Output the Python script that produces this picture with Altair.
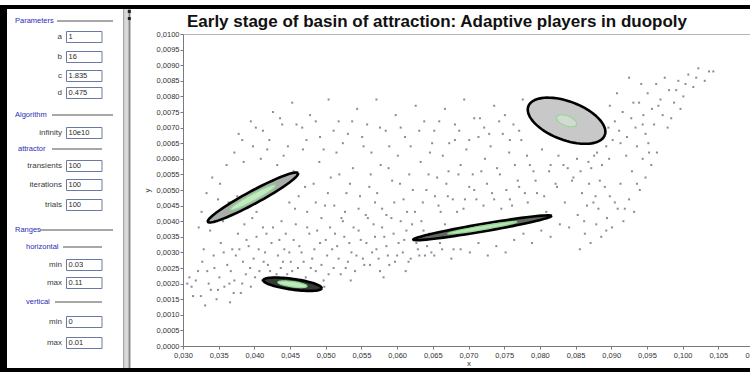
import altair as alt
import pandas as pd

# ---------------------------------------------------------------- data
TITLE = "Early stage of basin of attraction: Adaptive players in duopoly"

# scattered orbit points of the adaptive duopoly map
cloud_x = [
    0.0312, 0.0318, 0.0325, 0.0331, 0.0334, 0.0339, 0.0343, 0.0347, 0.0351, 0.0353,
    0.0358, 0.0362, 0.0366, 0.0369, 0.0372, 0.0377, 0.0381, 0.0384, 0.0388, 0.0392,
    0.0395, 0.0399, 0.0403, 0.0407, 0.0411, 0.0415, 0.0419, 0.0424, 0.0428, 0.0433,
    0.0437, 0.0442, 0.0446, 0.0451, 0.0338, 0.0356, 0.0364, 0.0329, 0.0327, 0.0306,
    0.0309, 0.0326, 0.0333, 0.0341, 0.0349, 0.0322,
    0.0455, 0.0461, 0.0466, 0.0472, 0.0477, 0.0481, 0.0486, 0.0492, 0.0497, 0.0502,
    0.0506, 0.0511, 0.0516, 0.0521, 0.0526, 0.0531, 0.0536, 0.0541, 0.0546, 0.0552,
    0.0557, 0.0562, 0.0567, 0.0571, 0.0576, 0.0582, 0.0587, 0.0592, 0.0597, 0.0602,
    0.0608, 0.0613, 0.0619, 0.0624, 0.0629, 0.0634, 0.0639, 0.0645, 0.0498, 0.0535,
    0.0581, 0.0612,
    0.0652, 0.0658, 0.0663, 0.0671, 0.0676, 0.0684, 0.0689, 0.0695, 0.0702, 0.0708,
    0.0714, 0.0721, 0.0727, 0.0733, 0.0739, 0.0746, 0.0752, 0.0758, 0.0764, 0.0771,
    0.0777, 0.0783, 0.0789, 0.0796, 0.0802, 0.0809, 0.0815, 0.0822, 0.0828, 0.0835,
    0.0841, 0.0847, 0.0853, 0.0859, 0.0866, 0.0872, 0.0878, 0.0884, 0.0891, 0.0897,
    0.0352, 0.0361, 0.0372, 0.0385, 0.0398, 0.0409, 0.0418, 0.0432, 0.0441, 0.0455,
    0.0462, 0.0468, 0.0474, 0.0483, 0.0491, 0.0499, 0.0507, 0.0515, 0.0522, 0.0529,
    0.0538, 0.0546, 0.0553, 0.0561, 0.0569, 0.0577, 0.0585, 0.0593, 0.0601, 0.0609,
    0.0617, 0.0625, 0.0633, 0.0641, 0.0649, 0.0656, 0.0664, 0.0672, 0.0681, 0.0689,
    0.0697, 0.0706, 0.0714, 0.0723, 0.0731, 0.0740, 0.0748, 0.0757, 0.0765, 0.0774,
    0.0782, 0.0791, 0.0376, 0.0403, 0.0438, 0.0449,
    0.0378, 0.0395, 0.0412, 0.0426, 0.0439, 0.0453, 0.0467, 0.0478, 0.0492, 0.0504,
    0.0518, 0.0531, 0.0544, 0.0558, 0.0571, 0.0584, 0.0598, 0.0611, 0.0626, 0.0638,
    0.0652, 0.0667, 0.0681, 0.0694, 0.0708, 0.0722, 0.0736, 0.0751, 0.0763, 0.0776,
    0.0803, 0.0815, 0.0826, 0.0839, 0.0852, 0.0868, 0.0880, 0.0893, 0.0902, 0.0905,
    0.0911, 0.0916, 0.0922, 0.0928, 0.0934, 0.0939, 0.0945, 0.0951, 0.0957, 0.0963,
    0.0969, 0.0975, 0.0981, 0.0988, 0.0994, 0.1001, 0.1008, 0.1015, 0.1022, 0.1031,
    0.1043, 0.0908, 0.0925, 0.0942, 0.0898, 0.0921, 0.0936, 0.0948, 0.0960, 0.0972,
    0.0984, 0.0997,
    0.0856, 0.0863, 0.0871, 0.0879, 0.0886, 0.0894, 0.0901, 0.0909, 0.0917, 0.0925,
    0.0932, 0.0940, 0.0948, 0.0956, 0.0964, 0.0913, 0.0929, 0.0944, 0.0898, 0.0882,
    0.0367, 0.0374, 0.0383, 0.0389, 0.0394, 0.0401, 0.0406, 0.0413, 0.0417, 0.0422,
    0.0426, 0.0431, 0.0435, 0.0440, 0.0444, 0.0449, 0.0453, 0.0458, 0.0463, 0.0469,
    0.0474, 0.0479, 0.0484, 0.0488, 0.0494, 0.0500, 0.0504, 0.0509, 0.0513, 0.0518,
    0.0524, 0.0528, 0.0533, 0.0539, 0.0543, 0.0549, 0.0554, 0.0559, 0.0565, 0.0569,
    0.0574, 0.0579, 0.0585, 0.0589, 0.0595, 0.0600, 0.0605, 0.0610, 0.0616, 0.0621,
    0.0627, 0.0631, 0.0637, 0.0642, 0.0648, 0.0654, 0.0660, 0.0667, 0.0673, 0.0679,
    0.0457, 0.0471, 0.0486, 0.0494, 0.0503, 0.0512, 0.0519, 0.0527, 0.0534, 0.0548,
    0.0556, 0.0563, 0.0572, 0.0579, 0.0588, 0.0596, 0.0604, 0.0614, 0.0622, 0.0636,
    0.0644, 0.0653, 0.0661, 0.0669, 0.0678, 0.0686, 0.0693, 0.0701, 0.0711, 0.0718,
    0.0726, 0.0736, 0.0744, 0.0753, 0.0761, 0.0769, 0.0779, 0.0786, 0.0794, 0.0806,
    0.0813, 0.0824, 0.0833, 0.0845, 0.0857, 0.0869, 0.0876, 0.0887,
    0.0383, 0.0402, 0.0421, 0.0436, 0.0447, 0.0459, 0.0473, 0.0486, 0.0497, 0.0511,
    0.0524, 0.0537, 0.0551, 0.0564, 0.0576, 0.0589, 0.0605, 0.0619, 0.0631, 0.0646,
    0.0659, 0.0673, 0.0687, 0.0701, 0.0716, 0.0729, 0.0743, 0.0758, 0.0771,
    0.0896, 0.0913, 0.0931, 0.0944, 0.0952, 0.0966, 0.0979, 0.0991, 0.1004, 0.1019,
    0.1037, 0.0862, 0.0875, 0.0893, 0.0905, 0.0919, 0.0936, 0.0953,
    0.0314, 0.0321, 0.0336, 0.0344, 0.0349, 0.0357, 0.0365, 0.0371, 0.0379, 0.0386,
    0.0397, 0.0412,
]
cloud_y = [
    0.0019, 0.0021, 0.0016, 0.0013, 0.0024, 0.0018, 0.0029, 0.0015, 0.0022, 0.0033,
    0.0019, 0.0026, 0.0014, 0.0031, 0.0021, 0.0036, 0.0017, 0.0027, 0.0023, 0.0032,
    0.0019, 0.0028, 0.0035, 0.0024, 0.0021, 0.0030, 0.0026, 0.0033, 0.0022, 0.0029,
    0.0025, 0.0031, 0.0023, 0.0027, 0.0037, 0.0040, 0.0046, 0.0031, 0.0027, 0.0020,
    0.0022, 0.0043, 0.0049, 0.0054, 0.0047, 0.0038,
    0.0034, 0.0025, 0.0030, 0.0022, 0.0036, 0.0028, 0.0024, 0.0033, 0.0021, 0.0029,
    0.0038, 0.0025, 0.0032, 0.0023, 0.0035, 0.0027, 0.0030, 0.0024, 0.0037, 0.0028,
    0.0033, 0.0026, 0.0039, 0.0031, 0.0024, 0.0035, 0.0029, 0.0041, 0.0027, 0.0033,
    0.0030, 0.0037, 0.0028, 0.0034, 0.0031, 0.0040, 0.0029, 0.0036, 0.0019, 0.0021,
    0.0022, 0.0024,
    0.0029, 0.0045, 0.0031, 0.0048, 0.0028, 0.0043, 0.0031, 0.0047, 0.0030, 0.0050,
    0.0033, 0.0045, 0.0029, 0.0049, 0.0032, 0.0044, 0.0030, 0.0047, 0.0034, 0.0051,
    0.0036, 0.0046, 0.0033, 0.0049, 0.0037, 0.0043, 0.0035, 0.0052, 0.0039, 0.0046,
    0.0038, 0.0054, 0.0042, 0.0049, 0.0045, 0.0057, 0.0048, 0.0053, 0.0051, 0.0060,
    0.0052, 0.0058, 0.0062, 0.0059, 0.0064, 0.0060, 0.0063, 0.0058, 0.0061, 0.0056,
    0.0048, 0.0063, 0.0043, 0.0052, 0.0059, 0.0045, 0.0054, 0.0062, 0.0041, 0.0049,
    0.0057, 0.0044, 0.0064, 0.0051, 0.0046, 0.0058, 0.0042, 0.0053, 0.0061, 0.0047,
    0.0055, 0.0043, 0.0059, 0.0050, 0.0065, 0.0054, 0.0061, 0.0056, 0.0066, 0.0058,
    0.0063, 0.0055, 0.0067, 0.0060, 0.0064, 0.0057, 0.0068, 0.0062, 0.0058, 0.0066,
    0.0061, 0.0056, 0.0048, 0.0043, 0.0040, 0.0046,
    0.0068, 0.0072, 0.0069, 0.0075, 0.0071, 0.0078, 0.0070, 0.0074, 0.0067, 0.0079,
    0.0072, 0.0068, 0.0076, 0.0071, 0.0079, 0.0069, 0.0074, 0.0067, 0.0077, 0.0072,
    0.0069, 0.0076, 0.0071, 0.0079, 0.0073, 0.0070, 0.0077, 0.0074, 0.0071, 0.0079,
    0.0063, 0.0058, 0.0061, 0.0057, 0.0060, 0.0059, 0.0062, 0.0064, 0.0066, 0.0072,
    0.0069, 0.0075, 0.0067, 0.0073, 0.0070, 0.0078, 0.0074, 0.0081, 0.0076, 0.0084,
    0.0079, 0.0086, 0.0082, 0.0078, 0.0085, 0.0080, 0.0087, 0.0083, 0.0089, 0.0085,
    0.0088, 0.0081, 0.0086, 0.0084, 0.0077, 0.0061, 0.0064, 0.0068, 0.0071, 0.0074,
    0.0073, 0.0076,
    0.0031, 0.0036, 0.0033, 0.0039, 0.0035, 0.0041, 0.0038, 0.0044, 0.0040, 0.0047,
    0.0043, 0.0050, 0.0054, 0.0058, 0.0062, 0.0052, 0.0056, 0.0060, 0.0048, 0.0044,
    0.0024, 0.0029, 0.0020, 0.0034, 0.0025, 0.0022, 0.0031, 0.0027, 0.0036, 0.0024,
    0.0038, 0.0023, 0.0034, 0.0027, 0.0036, 0.0030, 0.0024, 0.0039, 0.0032, 0.0027,
    0.0038, 0.0025, 0.0031, 0.0037, 0.0026, 0.0034, 0.0023, 0.0031, 0.0036, 0.0028,
    0.0040, 0.0025, 0.0033, 0.0038, 0.0029, 0.0034, 0.0026, 0.0041, 0.0030, 0.0035,
    0.0028, 0.0038, 0.0032, 0.0026, 0.0036, 0.0029, 0.0040, 0.0034, 0.0027, 0.0039,
    0.0033, 0.0029, 0.0037, 0.0032, 0.0030, 0.0036, 0.0033, 0.0039, 0.0035, 0.0031,
    0.0044, 0.0051, 0.0046, 0.0041, 0.0049, 0.0045, 0.0055, 0.0043, 0.0052, 0.0048,
    0.0042, 0.0055, 0.0049, 0.0044, 0.0057, 0.0046, 0.0052, 0.0043, 0.0050, 0.0046,
    0.0055, 0.0048, 0.0043, 0.0052, 0.0047, 0.0055, 0.0044, 0.0051, 0.0047, 0.0056,
    0.0052, 0.0047, 0.0055, 0.0050, 0.0045, 0.0053, 0.0049, 0.0058, 0.0053, 0.0048,
    0.0056, 0.0051, 0.0058, 0.0053, 0.0056, 0.0052, 0.0061, 0.0058,
    0.0066, 0.0070, 0.0066, 0.0073, 0.0064, 0.0071, 0.0066, 0.0072, 0.0063, 0.0069,
    0.0065, 0.0072, 0.0067, 0.0062, 0.0070, 0.0064, 0.0070, 0.0064, 0.0069, 0.0062,
    0.0072, 0.0065, 0.0069, 0.0066, 0.0073, 0.0068, 0.0072, 0.0066, 0.0069,
    0.0070, 0.0065, 0.0078, 0.0071, 0.0065, 0.0077, 0.0070, 0.0082, 0.0084, 0.0086,
    0.0088, 0.0040, 0.0046, 0.0037, 0.0046, 0.0044, 0.0052, 0.0062,
    0.0016, 0.0024, 0.0020, 0.0025, 0.0018, 0.0030, 0.0020, 0.0017, 0.0031, 0.0039,
    0.0041, 0.0038,
]

# attractors: centre, end of the major axis, end of the minor axis
att_names = ["left", "bottom", "middle", "upper"]
att_cx = [0.03980, 0.04534, 0.07195, 0.08374]
att_cy = [0.00476, 0.00198, 0.00379, 0.00722]
att_tx = [0.04611, 0.04943, 0.08164, 0.08910]
att_ty = [0.00554, 0.00185, 0.00417, 0.00676]
att_vx = [0.04024, 0.04522, 0.07205, 0.08282]
att_vy = [0.00458, 0.00181, 0.00367, 0.00664]

# axis ticks
x_ticks = [0.030, 0.035, 0.040, 0.045, 0.050, 0.055, 0.060, 0.065, 0.070,
           0.075, 0.080, 0.085, 0.090, 0.095, 0.100, 0.105, 0.110]
y_ticks = [0.0000, 0.0005, 0.0010, 0.0015, 0.0020, 0.0025, 0.0030, 0.0035,
           0.0040, 0.0045, 0.0050, 0.0055, 0.0060, 0.0065, 0.0070, 0.0075,
           0.0080, 0.0085, 0.0090, 0.0095, 0.0100]

# settings panel
section_titles = ["Parameters", "Algorithm", "attractor", "Ranges", "horizontal", "vertical"]
field_labels = ["a", "b", "c", "d", "infinity", "transients", "iterations", "trials",
                "min", "max", "min", "max"]
field_values = ["1", "16", "1.835", "0.475", "10e10", "100", "100", "100",
                "0.03", "0.11", "0", "0.01"]

# ---------------------------------------------------------------- layout
W, H = 567, 312            # plot area
LEFT, TOP = 183, 34        # plot origin inside the 750 x 372 canvas
FONT = "Liberation Sans"

section_left = [15, 15, 18, 15, 26, 26]
section_row = [21, 115, 149, 230, 247, 302]
section_rule = [(57, 113), (52, 113), (52, 102), (40, 113), (63, 102), (55, 102)]
field_row = [37, 57, 76, 93, 133, 166, 185, 205, 265, 283, 322, 343]

# canvas-pixel scales for the surrounding window furniture
SX = alt.Scale(domain=[0, 750], range=[-LEFT, 750 - LEFT], nice=False, zero=False)
SY = alt.Scale(domain=[0, 372], range=[-TOP, 372 - TOP], nice=False, zero=False)


def sx(f):
    return alt.X(f, type="quantitative", scale=SX, axis=None)


def sy(f):
    return alt.Y(f, type="quantitative", scale=SY, axis=None)


# ---------------------------------------------------------------- window furniture
frame = pd.DataFrame([
    dict(x0=7, x1=123, y0=9, y1=368, c="#ffffff"),
    dict(x0=123, x1=131, y0=9, y1=368, c="#d9d9d9"),
    dict(x0=123, x1=124.2, y0=9, y1=368, c="#a5a5a5"),
    dict(x0=128.6, x1=130.2, y0=9, y1=368, c="#868686"),
    dict(x0=127.8, x1=130.8, y0=10, y1=13, c="#202020"),
    dict(x0=127.8, x1=130.8, y0=17, y1=20, c="#202020"),
])
frame_back = alt.Chart(frame).mark_rect().encode(
    x=sx("x0"), x2="x1", y=sy("y0"), y2="y1", color=alt.Color("c:N", scale=None)
)

borders = pd.DataFrame([
    dict(x0=0, x1=7, y0=5, y1=372, c="#000000"),
    dict(x0=0, x1=750, y0=5, y1=9, c="#000000"),
    dict(x0=0, x1=750, y0=368, y1=372, c="#000000"),
])
frame_front = alt.Chart(borders).mark_rect().encode(
    x=sx("x0"), x2="x1", y=sy("y0"), y2="y1", color=alt.Color("c:N", scale=None)
)

sections = pd.DataFrame({
    "name": section_titles, "px": section_left, "py": section_row,
    "r0": [r[0] for r in section_rule], "r1": [r[1] for r in section_rule],
})
section_lines = alt.Chart(sections).mark_rule(color="#a8a8a8", strokeWidth=2).encode(
    x=sx("r0"), x2="r1", y=sy("py")
)
section_text = alt.Chart(sections).mark_text(
    align="left", baseline="middle", font=FONT, fontSize=7.5, color="#2b2bb5"
).encode(x=sx("px"), y=sy("py"), text="name:N")

fields = pd.DataFrame({"label": field_labels, "value": field_values, "py": field_row})
fields["b0"] = fields["py"] - 5.5
fields["b1"] = fields["py"] + 5.5
fields["lx"] = 62
fields["bx0"] = 66.5
fields["bx1"] = 102
fields["vx"] = 68.5

boxes = alt.Chart(fields).mark_rect(fill="white", stroke="#6c7aa3", strokeWidth=1).encode(
    x=sx("bx0"), x2="bx1", y=sy("b0"), y2="b1"
)
labels = alt.Chart(fields).mark_text(
    align="right", baseline="middle", font=FONT, fontSize=8, color="#3a3a3a"
).encode(x=sx("lx"), y=sy("py"), text="label:N")
values = alt.Chart(fields).mark_text(
    align="left", baseline="middle", font=FONT, fontSize=7.5, color="#2a2a2a"
).encode(x=sx("vx"), y=sy("py"), text="value:N")

title = alt.Chart(pd.DataFrame({"t": [TITLE], "px": [437], "py": [27]})).mark_text(
    align="center", baseline="alphabetic", font=FONT, fontSize=17,
    fontWeight="bold", color="#111111"
).encode(x=sx("px"), y=sy("py"), text="t:N")

# ---------------------------------------------------------------- plot
xs = alt.Scale(domain=[0.030, 0.110], range=[0, 571], nice=False, zero=False)
ys = alt.Scale(domain=[0.0, 0.010], nice=False, zero=False)
x_axis = alt.Axis(
    values=x_ticks, tickCount=len(x_ticks), title="x", grid=False, tickSize=3,
    labelPadding=2, titlePadding=1, labelFlush=False, labelOverlap=False,
    labelExpr="replace(format(datum.value, '.3f'), '.', ',')",
)
y_axis = alt.Axis(
    values=y_ticks, tickCount=len(y_ticks), title="y", grid=False, tickSize=3,
    labelPadding=1, titlePadding=5, labelFlush=False, labelOverlap=False,
    labelExpr="replace(format(datum.value, '.4f'), '.', ',')",
)


def px(f):
    return alt.X(f, type="quantitative", scale=xs, axis=x_axis)


def py(f):
    return alt.Y(f, type="quantitative", scale=ys, axis=y_axis)


cloud = alt.Chart(pd.DataFrame({"x": cloud_x, "y": cloud_y})).mark_square(
    size=4, color="#7b7386", opacity=0.85
).encode(x=px("x"), y=py("y"))

attractors = pd.DataFrame({
    "name": att_names, "cx": att_cx, "cy": att_cy,
    "tx": att_tx, "ty": att_ty, "vx": att_vx, "vy": att_vy,
})

# trace each ellipse from its centre and its two semi-axis end points
ellipse_path = alt.Chart(attractors).transform_calculate(
    deg="sequence(0, 365, 5)"
).transform_flatten(["deg"]).transform_calculate(
    ct="cos(datum.deg * PI / 180)",
    st="sin(datum.deg * PI / 180)",
    k="datum.name == 'upper' ? 0.26 : 0.5",
)

outline = ellipse_path.transform_calculate(
    x="datum.cx + (datum.tx - datum.cx) * datum.ct + (datum.vx - datum.cx) * datum.st",
    y="datum.cy + (datum.ty - datum.cy) * datum.ct + (datum.vy - datum.cy) * datum.st",
).mark_line(stroke="#000000", strokeWidth=2.6, strokeJoin="round").encode(
    x=px("x"), y=py("y"),
    order="deg:Q",
    detail="name:N",
    fill=alt.Fill("name:N", legend=None, scale=alt.Scale(
        domain=att_names, range=["#a7ada7", "#333d33", "#5f6a5f", "#c8c8c8"])),
)

core = ellipse_path.transform_calculate(
    x="datum.cx + datum.k * ((datum.tx - datum.cx) * datum.ct + (datum.vx - datum.cx) * datum.st)",
    y="datum.cy + datum.k * ((datum.ty - datum.cy) * datum.ct + (datum.vy - datum.cy) * datum.st)",
).mark_line(stroke="#93d993", strokeWidth=1.2).encode(
    x=px("x"), y=py("y"),
    order="deg:Q",
    detail="name:N",
    fill=alt.Fill("name:N", legend=None, scale=alt.Scale(
        domain=att_names, range=["#c2e9c2", "#bfe8bf", "#b8e4b8", "#d3d9d3"])),
)

plot = alt.layer(cloud, outline, core).resolve_scale(fill="independent")
back = alt.layer(frame_back, boxes, section_lines, section_text, labels, values)
front = alt.layer(frame_front, title)

chart = alt.layer(back, plot, front).resolve_scale(
    x="independent", y="independent"
).properties(
    width=W, height=H,
    padding={"left": LEFT, "top": TOP, "right": 0, "bottom": 372 - TOP - H},
    autosize=alt.AutoSizeParams(type="none"),
    background="white",
).configure_view(
    stroke="#b5b5b5", strokeWidth=1
).configure_axis(
    labelFont=FONT, labelFontSize=7.5, labelColor="#333333",
    titleFont=FONT, titleFontSize=8, titleFontWeight="normal", titleColor="#333333",
    domainColor="#7a7a7a", tickColor="#7a7a7a",
)

chart.save("out.html", embed_options={"renderer": "svg", "actions": False})
